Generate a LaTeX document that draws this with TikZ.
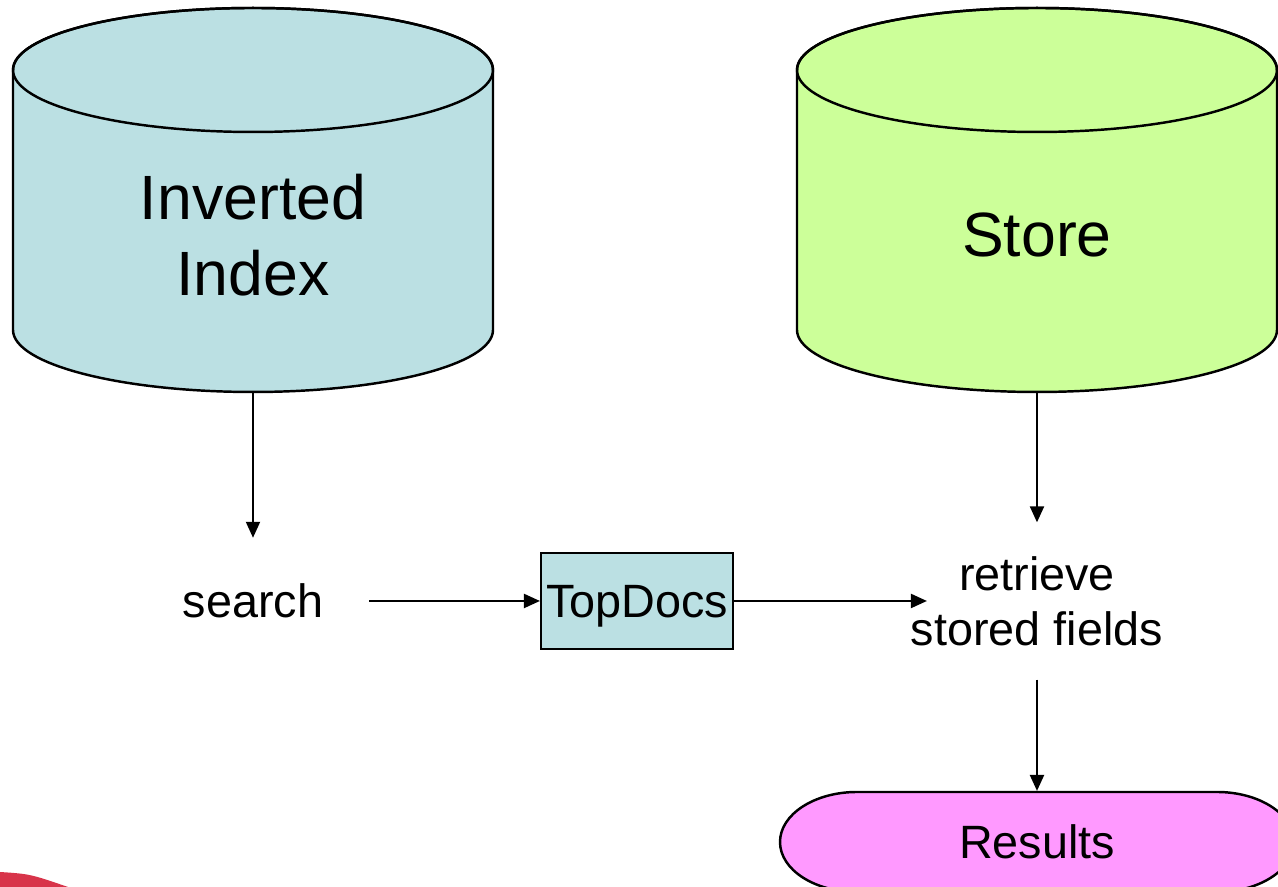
\documentclass[tikz,border=0pt]{standalone}
\usepackage{fontspec}
\setmainfont{Liberation Sans}
\usetikzlibrary{arrows.meta,positioning}

\definecolor{indexblue}{HTML}{BBE0E3}
\definecolor{storegreen}{HTML}{CCFF99}
\definecolor{resultpink}{HTML}{FF99FF}
\definecolor{cornerred}{HTML}{D8344A}

\begin{document}
\begin{tikzpicture}[
    line width=0.6pt,
    every node/.style={align=center},
    bigtext/.style={font=\fontsize{17.8}{21.6}\selectfont},
    smalltext/.style={font=\fontsize{13.3}{15.6}\selectfont},
    drum/.style={draw,line width=0.7pt},
    box/.style={draw,fill=indexblue,minimum width=1.92cm,minimum height=0.96cm,inner sep=1pt,text depth=0pt},
    arrow/.style={-{Triangle[length=1.6mm,width=1.4mm]}}
]
\useasboundingbox (0,0) rectangle (12.78,8.87);
\clip (0,0) rectangle (12.78,8.87);

% the two data stores, drawn as drums
\foreach \cx/\col in {2.53/indexblue,10.37/storegreen}{
  \filldraw[drum,fill=\col] (\cx-2.4,8.17) -- (\cx-2.4,5.57)
     arc[start angle=180,end angle=360,x radius=2.4,y radius=0.62]
     -- (\cx+2.4,8.17)
     arc[start angle=0,end angle=180,x radius=2.4,y radius=0.62] -- cycle;
  \draw[drum] (\cx,8.17) ellipse[x radius=2.4,y radius=0.62];
}
\coordinate (indexbase) at (2.53,4.95);
\coordinate (storebase) at (10.37,4.95);

\node[bigtext] (index) at (2.53,6.52) {Inverted\\Index};
\node[bigtext] (store) at (10.37,6.52) {Store};

\node[smalltext,inner sep=0.45cm] (search) at (2.53,2.86) {search};
\node[box,smalltext] (topdocs) at (6.37,2.86) {TopDocs};
\node[smalltext,inner sep=0.33cm] (retrieve) at (10.37,2.86) {retrieve\\stored fields};

% terminator with flattened ends
\filldraw[drum,fill=resultpink] (8.57,0.95) -- (12.17,0.95)
   arc[start angle=90,end angle=-90,x radius=0.77,y radius=0.5]
   -- (8.57,-0.05)
   arc[start angle=270,end angle=90,x radius=0.77,y radius=0.5] -- cycle;
\node[smalltext,minimum width=5.14cm,minimum height=1cm] (results) at (10.37,0.45) {Results};

\draw[arrow] (indexbase) -- (search);
\draw[arrow] (storebase) -- (retrieve);
\draw[arrow] (search) -- (topdocs);
\draw[arrow] (topdocs) -- ([xshift=5mm]retrieve.west);
\draw[arrow] (retrieve) -- (results);

% corner of the slide art
\fill[cornerred] (0,0) -- (0,0.15) .. controls (0.3,0.13) .. (0.68,0) -- cycle;
\end{tikzpicture}
\end{document}
